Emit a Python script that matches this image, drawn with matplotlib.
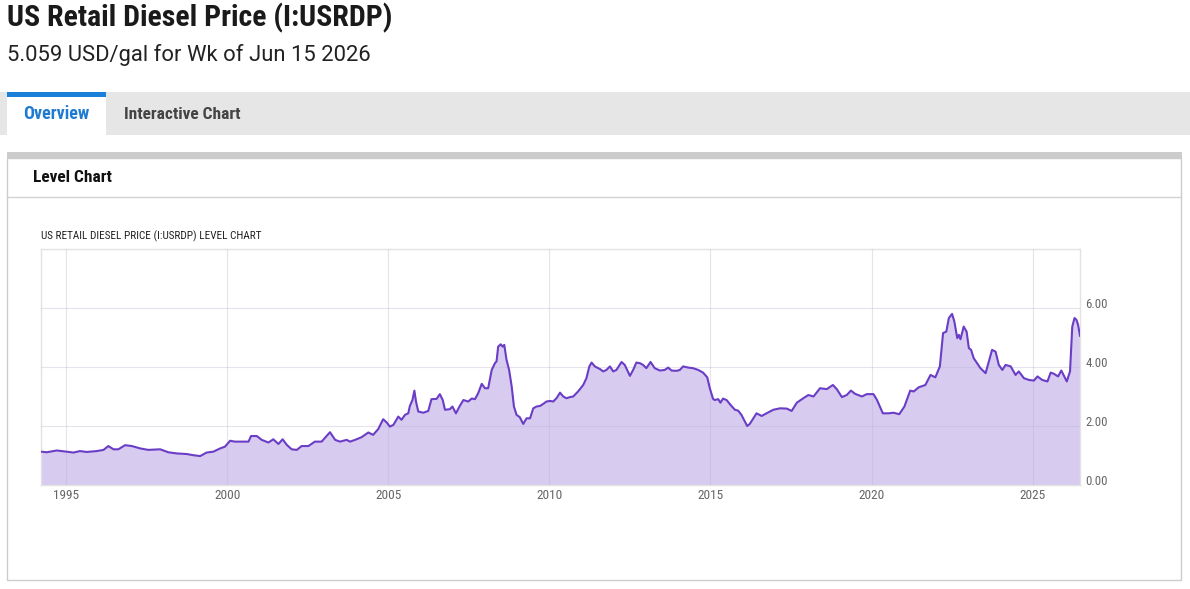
import matplotlib
matplotlib.use("Agg")
import matplotlib.pyplot as plt
import matplotlib.transforms as mtransforms
from matplotlib.patches import Rectangle

W, H = 1190, 589

years = [1994.22, 1994.40, 1994.71, 1995.02, 1995.23, 1995.43, 1995.64, 1995.95, 1996.16, 1996.31,
         1996.47, 1996.62, 1996.83, 1997.04, 1997.30, 1997.55, 1997.92, 1998.17, 1998.43, 1998.74,
         1998.95, 1999.16, 1999.36, 1999.57, 1999.78, 1999.93, 2000.09, 2000.24, 2000.45, 2000.66,
         2000.74, 2000.92, 2001.07, 2001.28, 2001.43, 2001.59, 2001.72, 2001.85, 2002.00, 2002.16,
         2002.31, 2002.52, 2002.72, 2002.93, 2003.07, 2003.19, 2003.35, 2003.50, 2003.71, 2003.81,
         2003.97, 2004.17, 2004.38, 2004.53, 2004.69, 2004.84, 2004.95, 2005.05, 2005.16, 2005.31,
         2005.41, 2005.52, 2005.62, 2005.67, 2005.75, 2005.81, 2005.86, 2005.93, 2006.09, 2006.24,
         2006.34, 2006.50, 2006.60, 2006.69, 2006.76, 2006.91, 2006.99, 2007.10, 2007.22, 2007.33,
         2007.48, 2007.59, 2007.69, 2007.79, 2007.90, 2008.00, 2008.10, 2008.21, 2008.31, 2008.36,
         2008.41, 2008.49, 2008.55, 2008.60, 2008.67, 2008.75, 2008.83, 2008.90, 2008.98, 2009.08,
         2009.19, 2009.29, 2009.40, 2009.50, 2009.60, 2009.71, 2009.81, 2009.91, 2010.02, 2010.12,
         2010.22, 2010.33, 2010.43, 2010.53, 2010.64, 2010.74, 2010.89, 2011.05, 2011.15, 2011.24,
         2011.31, 2011.41, 2011.57, 2011.67, 2011.77, 2011.88, 2011.98, 2012.08, 2012.24, 2012.34,
         2012.50, 2012.60, 2012.70, 2012.81, 2012.91, 2013.01, 2013.14, 2013.27, 2013.43, 2013.58,
         2013.69, 2013.79, 2013.95, 2014.05, 2014.15, 2014.31, 2014.46, 2014.62, 2014.77, 2014.90,
         2014.98, 2015.08, 2015.13, 2015.24, 2015.31, 2015.39, 2015.50, 2015.65, 2015.76, 2015.86,
         2015.96, 2016.14, 2016.22, 2016.43, 2016.59, 2016.74, 2016.95, 2017.16, 2017.37, 2017.52,
         2017.68, 2017.88, 2018.04, 2018.20, 2018.40, 2018.61, 2018.80, 2018.92, 2019.08, 2019.23,
         2019.36, 2019.49, 2019.70, 2019.85, 2020.06, 2020.17, 2020.35, 2020.53, 2020.68, 2020.86,
         2021.02, 2021.20, 2021.31, 2021.46, 2021.67, 2021.83, 2021.98, 2022.12, 2022.22, 2022.32,
         2022.40, 2022.50, 2022.57, 2022.66, 2022.71, 2022.76, 2022.86, 2022.95, 2023.02, 2023.09,
         2023.17, 2023.38, 2023.54, 2023.64, 2023.74, 2023.85, 2023.95, 2024.06, 2024.16, 2024.32,
         2024.47, 2024.57, 2024.73, 2024.89, 2025.04, 2025.15, 2025.30, 2025.46, 2025.56, 2025.66,
         2025.79, 2025.89, 2026.06, 2026.16, 2026.23, 2026.30, 2026.36, 2026.41, 2026.47]

prices = [1.13, 1.11, 1.17, 1.13, 1.10, 1.15, 1.12, 1.15, 1.19, 1.32,
          1.21, 1.21, 1.35, 1.32, 1.24, 1.19, 1.21, 1.11, 1.07, 1.05,
          1.01, 0.98, 1.10, 1.13, 1.24, 1.30, 1.50, 1.47, 1.47, 1.47,
          1.66, 1.66, 1.53, 1.44, 1.55, 1.39, 1.55, 1.36, 1.21, 1.19,
          1.32, 1.32, 1.47, 1.47, 1.64, 1.79, 1.53, 1.47, 1.53, 1.47,
          1.53, 1.62, 1.78, 1.70, 1.90, 2.23, 2.12, 1.98, 2.04, 2.32,
          2.21, 2.38, 2.43, 2.68, 2.88, 3.20, 2.83, 2.49, 2.45, 2.51,
          2.91, 2.92, 3.08, 2.88, 2.55, 2.57, 2.66, 2.43, 2.68, 2.88,
          2.83, 2.93, 2.91, 3.11, 3.43, 3.28, 3.28, 3.90, 4.13, 4.19,
          4.69, 4.77, 4.69, 4.75, 4.24, 3.90, 3.34, 2.66, 2.38, 2.30,
          2.07, 2.26, 2.26, 2.60, 2.66, 2.68, 2.75, 2.83, 2.85, 2.83,
          2.94, 3.13, 3.00, 2.94, 2.98, 3.00, 3.17, 3.39, 3.62, 4.02,
          4.15, 4.02, 3.93, 3.85, 3.90, 4.02, 3.85, 3.90, 4.17, 4.07,
          3.70, 3.90, 4.15, 4.13, 4.07, 3.96, 4.17, 3.96, 3.88, 3.90,
          3.98, 3.88, 3.87, 3.90, 4.02, 3.98, 3.96, 3.90, 3.81, 3.65,
          3.28, 2.92, 2.88, 2.91, 2.79, 2.93, 2.88, 2.68, 2.55, 2.52,
          2.38, 2.00, 2.07, 2.43, 2.34, 2.43, 2.55, 2.60, 2.59, 2.51,
          2.79, 2.94, 3.05, 3.00, 3.28, 3.25, 3.39, 3.25, 2.98, 3.05,
          3.20, 3.09, 3.00, 3.08, 3.08, 2.88, 2.43, 2.43, 2.45, 2.40,
          2.66, 3.20, 3.17, 3.31, 3.39, 3.73, 3.65, 4.02, 5.15, 5.20,
          5.66, 5.80, 5.54, 4.98, 5.09, 4.94, 5.37, 5.20, 4.64, 4.58,
          4.30, 3.96, 3.79, 4.19, 4.58, 4.52, 4.07, 3.90, 4.07, 4.02,
          3.73, 3.85, 3.62, 3.56, 3.54, 3.68, 3.56, 3.51, 3.81, 3.77,
          3.68, 3.88, 3.51, 3.85, 5.37, 5.66, 5.60, 5.43, 5.06]

x_ticks = [1995, 2000, 2005, 2010, 2015, 2020, 2025]
y_ticks = [0, 2, 4, 6]

title = "US Retail Diesel Price (I:USRDP)"
subtitle = "5.059 USD/gal for Wk of Jun 15 2026"
chart_title = "US RETAIL DIESEL PRICE (I:USRDP) LEVEL CHART"

narrow = ["Roboto Condensed", "Liberation Sans Narrow", "Roboto", "DejaVu Sans"]
plt.rcParams["font.family"] = narrow


def fx(x):
    return x / W


def fy(y):
    return 1 - y / H


def box(x0, y0, x1, y1, **kw):
    # rectangle in page pixels, drawn behind the chart
    fig.patches.append(Rectangle((fx(x0), fy(y1)), fx(x1 - x0), (y1 - y0) / H,
                                 transform=fig.transFigure, zorder=-1, **kw))


fig = plt.figure(figsize=(W / 100, H / 100), dpi=100)
fig.patch.set_facecolor("white")

# page header
fig.text(fx(7), fy(18), title, fontsize=21.5, fontweight="bold", color="#1a1a1a", va="center")
fig.text(fx(7), fy(55), subtitle, fontsize=15.8, color="#222222", va="center",
         family=["Roboto", "DejaVu Sans"])

# tab bar
box(0, 92, W, 135, facecolor="#e6e6e6", edgecolor="none")
box(7, 92, 106, 135, facecolor="white", edgecolor="none")
box(7, 92, 106, 97, facecolor="#1a7fd6", edgecolor="none")
fig.text(fx(56), fy(114), "Overview", fontsize=13, fontweight="bold", color="#1f7ad1",
         ha="center", va="center")
fig.text(fx(124), fy(114), "Interactive Chart", fontsize=12.5, fontweight="bold", color="#444444",
         va="center")

# panel
box(7, 158, 1181, 580, facecolor="white", edgecolor="#cccccc", linewidth=1)
box(7, 152, 1182, 158, facecolor="#cccccc", edgecolor="none")
fig.lines.append(plt.Line2D([fx(7), fx(1181)], [fy(197), fy(197)], transform=fig.transFigure,
                            color="#d2d2d2", linewidth=1))
fig.text(fx(33), fy(178), "Level Chart", fontsize=12.5, fontweight="bold", color="#111111",
         va="center")
fig.text(fx(41), fy(236), chart_title, fontsize=8.1, color="#222222", va="center")

# chart
ax = fig.add_axes([fx(41), fy(485), fx(1080 - 41), (485 - 249) / H])
ax.set_zorder(5)
ax.fill_between(years, prices, 0, color="#d7ccf0", linewidth=0, zorder=1)
ax.plot(years, prices, color="#6a3dc6", linewidth=1.5, zorder=3)
ax.set_xlim(years[0], years[-1])
ax.set_ylim(0, 8)
ax.set_xticks(x_ticks)
ax.set_xticklabels([str(t) for t in x_ticks])
ax.set_yticks(y_ticks)
ax.set_yticklabels([f"{t:.2f}" for t in y_ticks])
ax.yaxis.tick_right()
ax.tick_params(axis="both", length=0, labelcolor="#666666")
ax.tick_params(axis="x", pad=3, labelsize=9.6)
ax.tick_params(axis="y", pad=4, labelsize=9.3)
ax.set_axisbelow(False)
ax.grid(True, color="#b9b0cc", alpha=0.35, linewidth=0.8)
for s in ax.spines.values():
    s.set_color("#e2e2e2")
    s.set_linewidth(1)

shift = mtransforms.ScaledTranslation(0, 5 / 100, fig.dpi_scale_trans)
for lab in ax.get_yticklabels():
    lab.set_transform(lab.get_transform() + shift)

fig.savefig("out.png", dpi=100)
